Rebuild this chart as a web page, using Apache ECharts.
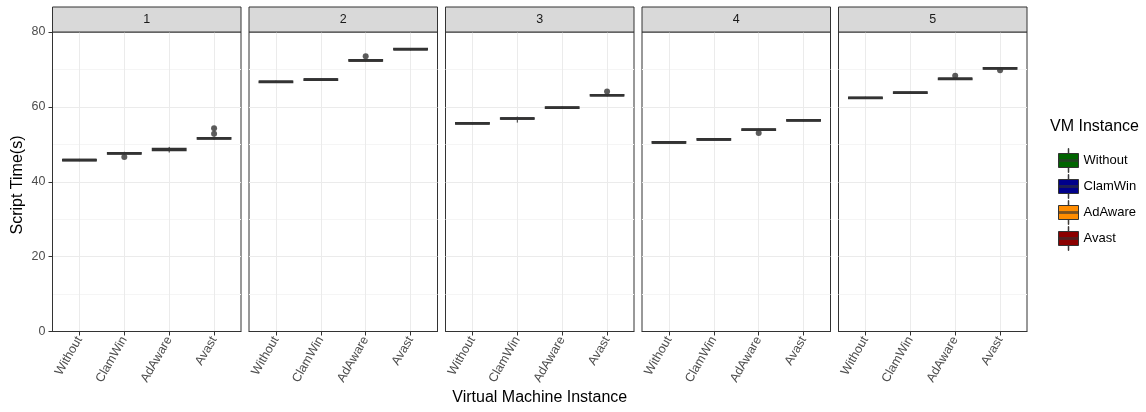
<!DOCTYPE html>
<html>
<head>
<meta charset="utf-8">
<script src="https://cdn.jsdelivr.net/npm/echarts@6/dist/echarts.min.js"></script>
<style>
  html, body { margin: 0; padding: 0; background: #fff; }
  #chart { width: 1146px; height: 412px; }
</style>
</head>
<body>
<div id="chart"></div>
<script>
const panels = ['1', '2', '3', '4', '5'];
const vms = ['Without', 'ClamWin', 'AdAware', 'Avast'];
const vmColors = ['#006400', '#00008B', '#FF8C00', '#8B0000'];

// [min, q1, median, q3, max] for each panel 1..5
const withoutStats = [
  [45.5, 45.6, 45.8, 46.0, 46.1],
  [66.4, 66.5, 66.7, 66.9, 67.0],
  [55.3, 55.4, 55.6, 55.8, 55.9],
  [50.2, 50.3, 50.5, 50.7, 50.8],
  [62.1, 62.2, 62.4, 62.6, 62.7]
];
const clamwinStats = [
  [47.2, 47.4, 47.6, 47.8, 48.0],
  [67.0, 67.1, 67.3, 67.5, 67.6],
  [55.8, 56.7, 56.9, 57.1, 57.4],
  [51.0, 51.1, 51.3, 51.5, 51.6],
  [63.5, 63.6, 63.8, 64.0, 64.1]
];
const adawareStats = [
  [47.8, 48.3, 48.6, 48.9, 49.3],
  [72.1, 72.2, 72.4, 72.6, 72.7],
  [59.5, 59.6, 59.8, 60.0, 60.1],
  [53.6, 53.7, 53.9, 54.1, 54.2],
  [67.2, 67.3, 67.5, 67.7, 67.8]
];
const avastStats = [
  [51.2, 51.4, 51.6, 51.8, 52.1],
  [75.1, 75.2, 75.4, 75.6, 75.7],
  [62.8, 62.9, 63.1, 63.3, 63.4],
  [56.1, 56.2, 56.4, 56.6, 56.7],
  [70.0, 70.1, 70.3, 70.5, 70.6]
];
const allStats = [withoutStats, clamwinStats, adawareStats, avastStats];

// [panel index, vm index, value]
const outliers = [
  [0, 1, 46.6], [0, 3, 52.8], [0, 3, 54.3],
  [1, 2, 73.5],
  [2, 3, 64.1],
  [3, 2, 53.0],
  [4, 2, 68.3], [4, 3, 69.8]
];
const yTicks = [0, 20, 40, 60, 80];

// layout
const LEFT0 = 52.5, PW = 188.5, STEP = 196.5, TOP = 32, PH = 299.5;
const FONT = '"Liberation Sans", Arial, sans-serif';
const BOX_W = 0.375;

const chart = echarts.init(document.getElementById('chart'));

const grids = [], xAxes = [], yAxes = [], series = [], graphics = [];

function renderBox(params, api) {
  const x = api.value(0);
  const lo = api.coord([x - BOX_W, api.value(2)]);
  const hi = api.coord([x + BOX_W, api.value(4)]);
  const med = api.coord([x, api.value(3)]);
  const wMin = api.coord([x, api.value(1)]);
  const wMax = api.coord([x, api.value(5)]);
  const fill = api.visual('color');
  return {
    type: 'group',
    children: [
      { type: 'line', shape: { x1: med[0], y1: wMin[1], x2: med[0], y2: lo[1] }, style: { stroke: '#333', lineWidth: 1 } },
      { type: 'line', shape: { x1: med[0], y1: hi[1], x2: med[0], y2: wMax[1] }, style: { stroke: '#333', lineWidth: 1 } },
      { type: 'rect', shape: { x: lo[0], y: hi[1], width: hi[0] - lo[0], height: lo[1] - hi[1] },
        style: { fill: fill, stroke: '#333', lineWidth: 1.2 } },
      { type: 'line', shape: { x1: lo[0], y1: med[1], x2: hi[0], y2: med[1] }, style: { stroke: '#333', lineWidth: 2.4 } }
    ]
  };
}

panels.forEach((p, i) => {
  const left = LEFT0 + i * STEP;
  grids.push({ left: left, top: TOP, width: PW, height: PH, show: true,
    borderColor: '#333', borderWidth: 1, backgroundColor: '#fff', containLabel: false });

  xAxes.push({
    type: 'value', gridIndex: i, min: 0.4, max: 4.6,
    axisLine: { show: true, lineStyle: { color: '#333', width: 1 } },
    axisTick: { show: true, customValues: [1, 2, 3, 4], length: 4, lineStyle: { color: '#333' } },
    axisLabel: { show: true, customValues: [1, 2, 3, 4], formatter: v => vms[Math.round(v) - 1],
      rotate: 60, margin: 6, fontSize: 12.5, color: '#4D4D4D', fontFamily: FONT },
    splitLine: { show: true, lineStyle: { color: '#EBEBEB', width: 1 } }
  });

  yAxes.push({
    type: 'value', gridIndex: i, min: 0, max: 80, interval: 20,
    axisLine: { show: i === 0, lineStyle: { color: '#333', width: 1 } },
    axisTick: { show: i === 0, length: 4, lineStyle: { color: '#333' } },
    axisLabel: { show: i === 0, margin: 7, fontSize: 12.5, color: '#4D4D4D', fontFamily: FONT,
      formatter: v => yTicks.includes(v) ? String(v) : '' },
    splitLine: { show: true, showMinLine: false, showMaxLine: false, lineStyle: { color: '#EBEBEB', width: 1 } },
    minorTick: { show: false, splitNumber: 2 },
    minorSplitLine: { show: true, lineStyle: { color: '#F5F5F5', width: 1 } }
  });

  vms.forEach((vm, v) => {
    series.push({
      name: vm, type: 'custom', xAxisIndex: i, yAxisIndex: i,
      itemStyle: { color: vmColors[v], borderColor: '#333', borderWidth: 1 },
      encode: { x: 0, y: [1, 2, 3, 4, 5] },
      data: [[v + 1].concat(allStats[v][i])],
      renderItem: renderBox,
      silent: true, z: 3
    });
  });

  series.push({
    type: 'scatter', xAxisIndex: i, yAxisIndex: i, silent: true, z: 4,
    symbolSize: 6, itemStyle: { color: '#333' },
    data: outliers.filter(o => o[0] === i).map(o => [o[1] + 1, o[2]])
  });

  // facet strip
  graphics.push({ type: 'rect', x: left, y: 7, shape: { width: PW, height: TOP - 7 },
    style: { fill: '#D9D9D9', stroke: '#333', lineWidth: 1 }, z: 10 });
  graphics.push({ type: 'text', x: left + PW / 2, y: 19.5, z: 11,
    style: { text: p, textAlign: 'center', textVerticalAlign: 'middle', fontSize: 12.5,
      fill: '#1A1A1A', fontFamily: FONT } });
});

// axis titles and legend title
graphics.push({ type: 'text', x: (LEFT0 + LEFT0 + 4 * STEP + PW) / 2, y: 398,
  style: { text: 'Virtual Machine Instance', textAlign: 'center', textVerticalAlign: 'middle',
    fontSize: 16, fill: '#000', fontFamily: FONT } });
graphics.push({ type: 'text', x: 18, y: 185, rotation: Math.PI / 2,
  style: { text: 'Script Time(s)', textAlign: 'center', textVerticalAlign: 'middle',
    fontSize: 16, fill: '#000', fontFamily: FONT } });
graphics.push({ type: 'text', x: 1050, y: 127,
  style: { text: 'VM Instance', textAlign: 'left', textVerticalAlign: 'middle',
    fontSize: 16, fill: '#000', fontFamily: FONT } });

const KEY_ICON = 'path://M9.75 0H10.25V5H9.75Z M0 5H20V19H0Z M0 11.4H20V12.6H0Z M9.75 19H10.25V24H9.75Z';

chart.setOption({
  animation: false,
  backgroundColor: '#fff',
  grid: grids,
  xAxis: xAxes,
  yAxis: yAxes,
  legend: {
    data: vms.map(n => ({ name: n, icon: KEY_ICON })),
    orient: 'vertical', left: 1053, top: 143,
    itemWidth: 20, itemHeight: 24, itemGap: 1,
    selectedMode: false,
    itemStyle: { borderColor: '#333', borderWidth: 1 },
    textStyle: { fontSize: 13, color: '#000', fontFamily: FONT }
  },
  graphic: graphics,
  series: series
});
</script>
</body>
</html>
